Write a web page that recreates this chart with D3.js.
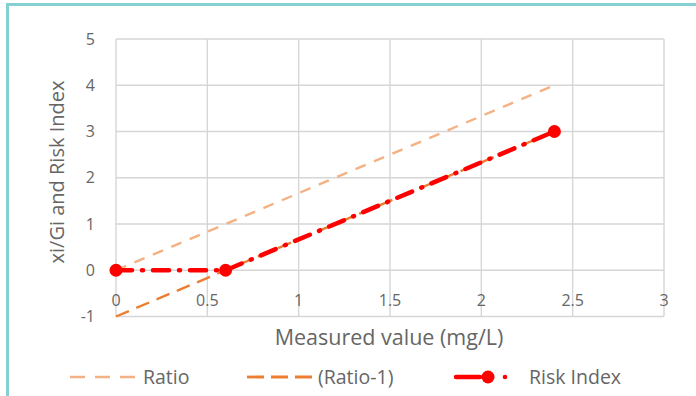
<!DOCTYPE html>
<html><head><meta charset="utf-8">
<script src="https://cdn.jsdelivr.net/npm/d3@7"></script>
<style>body{margin:0;background:#fff;} text{font-family:"Open Sans",Lato,sans-serif;fill:#666666;}</style>
</head><body>
<svg id="c" width="696" height="396"></svg>
<script>
const xTicks = [0, 0.5, 1, 1.5, 2, 2.5, 3];
const yTicks = [-1, 0, 1, 2, 3, 4, 5];
const ratioX = [0, 2.4];
const ratioY = [0, 4];
const ratioM1X = [0, 2.4];
const ratioM1Y = [-1, 3];
const riskX = [0, 0.6, 2.4];
const riskY = [0, 0, 3];

const svg = d3.select("#c");
// frame
svg.append("rect").attr("x",7.5).attr("y",4.5).attr("width",700).attr("height",400)
  .attr("fill","none").attr("stroke","#86cfd3").attr("stroke-width",3);

const x = d3.scaleLinear().domain([0,3]).range([116,664]);
const y = d3.scaleLinear().domain([-1,5]).range([316.5,39]);

// gridlines
svg.append("g").selectAll("line").data(xTicks).join("line")
  .attr("x1",d=>x(d)).attr("x2",d=>x(d)).attr("y1",y(5)).attr("y2",y(-1))
  .attr("stroke","#d6d6d6").attr("stroke-width",1.4);
svg.append("g").selectAll("line").data(yTicks).join("line")
  .attr("y1",d=>y(d)).attr("y2",d=>y(d)).attr("x1",x(0)).attr("x2",x(3))
  .attr("stroke","#d6d6d6").attr("stroke-width",1.4);

// tick labels
svg.append("g").selectAll("text").data(yTicks).join("text")
  .attr("x",95).attr("y",d=>y(d)).attr("dy","0.35em").attr("text-anchor","end")
  .attr("font-size",16).text(d=>d);
svg.append("g").selectAll("text").data(xTicks).join("text")
  .attr("x",d=>x(d)).attr("y",300).attr("dy","0.35em").attr("text-anchor","middle")
  .attr("font-size",16).text(d=>d);

// titles
svg.append("text").attr("x",389).attr("y",337).attr("dy","0.35em").attr("text-anchor","middle")
  .attr("font-size",21.5).text("Measured value (mg/L)");
svg.append("text").attr("transform","translate(57,172) rotate(-90)").attr("dy","0.35em")
  .attr("text-anchor","middle").attr("font-size",20).text("xi/Gi and Risk Index");

const line = d3.line().x(d=>x(d[0])).y(d=>y(d[1]));
svg.append("path").datum(d3.zip(ratioX,ratioY)).attr("d",line)
  .attr("fill","none").attr("stroke","#F4B183").attr("stroke-width",2.4).attr("stroke-dasharray","11,9");
svg.append("path").datum(d3.zip(ratioM1X,ratioM1Y)).attr("d",line)
  .attr("fill","none").attr("stroke","#ED7D31").attr("stroke-width",2.4).attr("stroke-dasharray","14,8");
svg.append("path").datum(d3.zip(riskX,riskY)).attr("d",line)
  .attr("fill","none").attr("stroke","#FF0000").attr("stroke-width",4.5).attr("stroke-linecap","round")
  .attr("stroke-dasharray","16,10,1,10");
svg.append("g").selectAll("circle").data(d3.zip(riskX,riskY)).join("circle")
  .attr("cx",d=>x(d[0])).attr("cy",d=>y(d[1])).attr("r",6.5).attr("fill","#FF0000");

// legend
const ly = 377;
const lg = svg.append("g");
lg.append("line").attr("x1",70).attr("x2",136).attr("y1",ly).attr("y2",ly)
  .attr("stroke","#F4B183").attr("stroke-width",2.4).attr("stroke-dasharray","15,10");
lg.append("text").attr("x",143).attr("y",ly).attr("dy","0.35em").attr("font-size",19.5).text("Ratio");
lg.append("line").attr("x1",247).attr("x2",312).attr("y1",ly).attr("y2",ly)
  .attr("stroke","#ED7D31").attr("stroke-width",2.8).attr("stroke-dasharray","17,7");
lg.append("text").attr("x",318).attr("y",ly).attr("dy","0.35em").attr("font-size",19.5).text("(Ratio-1)");
lg.append("line").attr("x1",456).attr("x2",480).attr("y1",ly).attr("y2",ly)
  .attr("stroke","#FF0000").attr("stroke-width",4.5).attr("stroke-linecap","round");
lg.append("circle").attr("cx",488).attr("cy",ly).attr("r",6.5).attr("fill","#FF0000");
lg.append("circle").attr("cx",505).attr("cy",ly).attr("r",2.3).attr("fill","#FF0000");
lg.append("text").attr("x",529).attr("y",ly).attr("dy","0.35em").attr("font-size",19.5).text("Risk Index");
</script>
</body></html>
